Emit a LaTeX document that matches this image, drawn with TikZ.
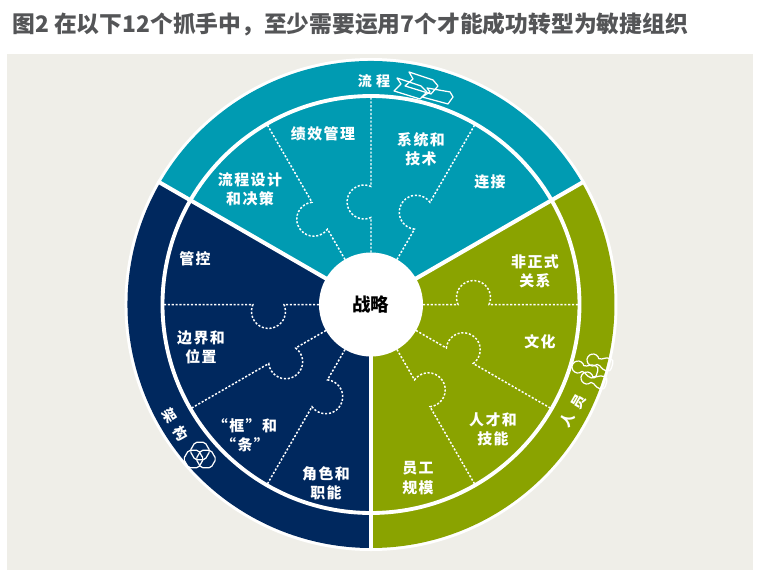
\documentclass[tikz,border=0pt]{standalone}
\usepackage{fontspec}
\setmainfont{Liberation Sans}
\newfontfamily\cjk{Noto Sans CJK SC}
\newfontfamily\cjklbl[LetterSpace=10]{Noto Sans CJK SC}
\definecolor{cBack} {RGB}{239,238,232}
\definecolor{cTeal} {RGB}{0,155,178}
\definecolor{cNavy} {RGB}{0,40,94}
\definecolor{cGreen}{RGB}{138,163,0}
\definecolor{cTitle}{RGB}{84,85,87}

\begin{document}
\begin{tikzpicture}

%% ── shared styles ─────────────────────────────────────────────────────────
\tikzset{
  lbl/.style={font=\cjklbl\fontsize{8.5}{11}\selectfont\bfseries, text=white,
    align=center, inner sep=0pt},
  ringlbl/.style={font=\cjk\fontsize{8}{9}\selectfont\bfseries, text=white,
    inner sep=0pt},
  spoke/.style={white, line width=2.3pt},
  seam/.style={white, line width=0.85pt, dash pattern=on 1.2pt off 1pt},
  glyph/.style={white, line width=0.7pt, line join=round},
}

%% ── radii ─────────────────────────────────────────────────────────────────
\def\rRim{4.93}
\def\rOut{4.87}
\def\rIn{4.17}
\def\rHub{1.04}

\useasboundingbox (-7.42,6.09) rectangle (7.84,-5.53);

%% ── background and title ──────────────────────────────────────────────────
\fill[cBack] (-7.28,5.01) rectangle (7.64,-5.31);
\node[font=\cjk\fontsize{12.96}{14}\selectfont\bfseries, text=cTitle, anchor=west, inner sep=0pt]
  (T0) at (-7.18,5.61) {图2 在以下12个抓手中，至少需要运用7个才能成功转型为敏捷组织};

%% ── wheel ─────────────────────────────────────────────────────────────────
\fill[white] (0,0) circle (\rRim);
\fill[cTeal]  (0,0) -- (30:\rOut)  arc[start angle=30,  end angle=150, radius=\rOut] -- cycle;
\fill[cNavy]  (0,0) -- (150:\rOut) arc[start angle=150, end angle=270, radius=\rOut] -- cycle;
\fill[cGreen] (0,0) -- (270:\rOut) arc[start angle=270, end angle=390, radius=\rOut] -- cycle;

% puzzle seams
\foreach \a in {60,90,120,180,210,240,300,330,360} {
  \draw[seam, rotate=\a] (\rHub,0) -- (1.74,0)
    arc[start angle=204, end angle=-24, radius=0.34] -- (\rIn,0);
}

\draw[white, line width=2.2pt] (0,0) circle (\rIn);
\foreach \a in {30,150,270} {
  \draw[spoke] (0,0) -- (\a:\rRim);
}
\node[circle, fill=white, minimum size=2.08cm, inner sep=0pt,
  font=\cjk\fontsize{10.5}{12}\selectfont\bfseries] (C0) at (0,0) {战略};

%% ── piece labels ──────────────────────────────────────────────────────────
\node[lbl] (P1)  at (-0.96,3.41) {绩效管理};
\node[lbl] (P2)  at (1.00,3.10)  {系统和\\技术};
\node[lbl] (P3)  at (2.38,2.45)  {连接};
\node[lbl] (P4)  at (-2.42,2.31) {流程设计\\和决策};
\node[lbl] (P5)  at (3.28,0.67)  {非正式\\关系};
\node[lbl] (P6)  at (3.38,-0.75) {文化};
\node[lbl] (P7)  at (2.44,-2.49) {人才和\\技能};
\node[lbl] (P8)  at (0.94,-3.47) {员工\\规模};
\node[lbl] (P9)  at (-0.90,-3.57){角色和\\职能};
\node[lbl] (P10) at (-2.52,-2.61){“框”和\\“条”};
\node[lbl] (P11) at (-3.40,-0.85){边界和\\位置};
\node[lbl] (P12) at (-3.52,0.91) {管控};

%% ── ring labels ───────────────────────────────────────────────────────────
\node[ringlbl]             (R1) at (0.06,4.47)   {流\hspace{0.3em}程};
\node[ringlbl, rotate=-58] (R2) at (-3.92,-2.41) {架\hspace{0.5em}构};
\node[ringlbl, rotate=60]  (R3) at (4.04,-2.13)  {人\hspace{0.5em}员};

%% ── ring icons ────────────────────────────────────────────────────────────
% process arrows
\begin{scope}[x=0.02cm, y=-0.02cm, shift={(-371,-304.5)}]
  \draw[glyph] (409,72)--(433,80)--(438,86)--(431,94)--(405,86)--(413,79)--cycle;
  \draw[glyph] (427,88)--(450,92)--(453,97)--(448,104)--(422,97)--(430,92)--cycle;
  \draw[glyph] (397,78)--(421,86)--(427,92)--(420,99)--(394,91)--(401,84)--cycle;
\end{scope}

% overlapping hexagons
\foreach \x/\y in {-3.42/-2.93, -3.55/-3.09, -3.30/-3.09} {
  \draw[glyph, rounded corners=1pt, shift={(\x,\y)}]
    (0:0.2)--(60:0.2)--(120:0.2)--(180:0.2)--(240:0.2)--(300:0.2)--cycle;
}

% pawns
\foreach \x/\y in {4.14/-1.25, 4.44/-1.11, 4.32/-1.47} {
  \draw[glyph, shift={(\x,\y)}, rotate=-17]
    (0.104,0.06) arc[start angle=30, end angle=330, radius=0.12]
    .. controls (0.2,-0.06) and (0.2,-0.13) .. (0.32,-0.13)
    .. controls (0.38,-0.13) and (0.40,-0.09) .. (0.40,-0.05) -- (0.40,0.05)
    .. controls (0.40,0.09) and (0.38,0.13) .. (0.32,0.13)
    .. controls (0.2,0.13) and (0.2,0.06) .. (0.104,0.06) -- cycle;
}

\end{tikzpicture}
\end{document}
